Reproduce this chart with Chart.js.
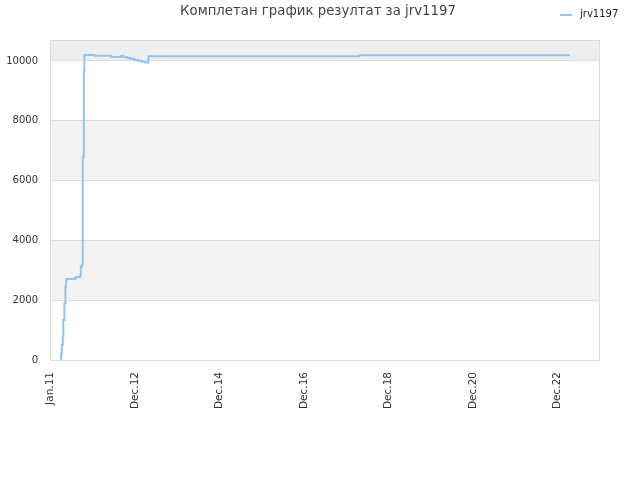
<!DOCTYPE html>
<html>
<head>
<meta charset="utf-8">
<script src="https://cdn.jsdelivr.net/npm/chart.js@4.4.1/dist/chart.umd.min.js"></script>
<style>
html,body{margin:0;padding:0;background:#fff;}
#c{display:block;}
</style>
</head>
<body>
<canvas id="c" width="640" height="480"></canvas>
<script>
// ---- data ----
const seriesName = 'jrv1197';
const titleText = 'Комплетан график резултат за jrv1197';
const dates = [
  '2011-03-15','2011-03-18','2011-03-24','2011-04-01','2011-04-06','2011-04-15',
  '2011-04-24','2011-04-30','2011-05-06','2011-07-17','2011-08-29','2011-09-04',
  '2011-09-14','2011-09-21','2011-09-30','2011-10-05','2011-12-28','2012-05-23',
  '2012-08-15','2012-09-07','2012-10-06','2012-11-03','2012-12-10','2013-01-14',
  '2013-02-12','2013-03-12','2013-04-10','2018-04-06','2023-03-30'
];
const values = [
  0,220,500,780,1340,1900,
  2450,2680,2710,2770,2810,3120,
  3180,6800,9640,10200,10170,10130,
  10170,10130,10100,10070,10030,10000,
  9970,9950,10160,10190,10190
];
const xTickDates = ['2010-12-12','2012-12-15','2014-12-15','2016-12-15','2018-12-15','2020-12-15','2022-12-15'];
const xTickLabels = ['Jan.11','Dec.12','Dec.14','Dec.16','Dec.18','Dec.20','Dec.22'];
const xRange = ['2010-12-12','2023-12-15'];
const yTicks = [0,2000,4000,6000,8000,10000];
const yMax = 10700;

// ---- helpers ----
const toMs = s => Date.parse(s + 'T00:00:00Z');
const points = dates.map((d,i) => ({x: toMs(d), y: values[i]}));
const xTickMs = xTickDates.map(toMs);

const FONT = 'DejaVu Sans';
const lineColor = '#92c4f2';

const bandsPlugin = {
  id: 'bands',
  beforeDraw(chart) {
    const {ctx, chartArea: a, scales: {y}} = chart;
    ctx.save();
    const bounds = yTicks.concat([yMax]);
    for (let i = 0; i < bounds.length - 1; i++) {
      let col = null;
      if (i === bounds.length - 2) col = '#eeeeee';
      else if (i % 2 === 1) col = '#f3f3f3';
      if (!col) continue;
      const top = y.getPixelForValue(bounds[i+1]);
      const bot = y.getPixelForValue(bounds[i]);
      ctx.fillStyle = col;
      ctx.fillRect(a.left, top, a.right - a.left, bot - top);
    }
    ctx.restore();
  },
  beforeDatasetsDraw(chart) {
    const {ctx, chartArea: a} = chart;
    ctx.save();
    ctx.strokeStyle = '#dcdcdc';
    ctx.lineWidth = 1;
    ctx.strokeRect(a.left + 0.5, a.top + 0.5, a.right - a.left - 1, a.bottom - a.top);
    ctx.restore();
  },
  afterDraw(chart) {
    const {ctx} = chart;
    const ds = chart.data.datasets[0];
    ctx.save();
    // title
    ctx.fillStyle = '#444';
    ctx.font = '13.3px "' + FONT + '"';
    ctx.textAlign = 'center';
    ctx.textBaseline = 'middle';
    ctx.fillText(titleText, 318, 12);
    // legend
    ctx.strokeStyle = ds.borderColor;
    ctx.lineWidth = 2;
    ctx.beginPath();
    ctx.moveTo(560, 15);
    ctx.lineTo(572, 15);
    ctx.stroke();
    ctx.fillStyle = '#222';
    ctx.font = '10px "' + FONT + '"';
    ctx.textAlign = 'left';
    ctx.fillText(ds.label, 580, 14);
    ctx.restore();
  }
};

new Chart(document.getElementById('c'), {
  type: 'line',
  data: {
    datasets: [{
      label: seriesName,
      data: points,
      borderColor: lineColor,
      borderWidth: 2,
      pointRadius: 0,
      fill: false,
      stepped: true,
      tension: 0
    }]
  },
  options: {
    responsive: false,
    animation: false,
    layout: {padding: {left: 0, right: 40, top: 40, bottom: 0}},
    plugins: {
      legend: {display: false},
      tooltip: {enabled: false},
      title: {display: false}
    },
    scales: {
      x: {
        type: 'linear',
        min: toMs(xRange[0]),
        max: toMs(xRange[1]),
        afterBuildTicks(scale) { scale.ticks = xTickMs.map(v => ({value: v})); },
        afterFit(scale) { scale.height = 120; },
        grid: {display: false, drawTicks: false},
        border: {display: false},
        ticks: {
          autoSkip: false,
          minRotation: 90,
          maxRotation: 90,
          padding: 12,
          color: '#333',
          font: {family: FONT, size: 10.5},
          callback(v) { const i = xTickMs.indexOf(v); return i >= 0 ? xTickLabels[i] : ''; }
        }
      },
      y: {
        type: 'linear',
        min: 0,
        max: yMax,
        afterBuildTicks(scale) { scale.ticks = yTicks.map(v => ({value: v})); },
        afterFit(scale) { scale.width = 50; },
        grid: {color: '#dddddd', drawTicks: false},
        border: {display: false},
        ticks: {
          padding: 12,
          color: '#333',
          font: {family: FONT, size: 10},
          callback(v) { return String(v); }
        }
      }
    }
  },
  plugins: [bandsPlugin]
});
</script>
</body>
</html>
